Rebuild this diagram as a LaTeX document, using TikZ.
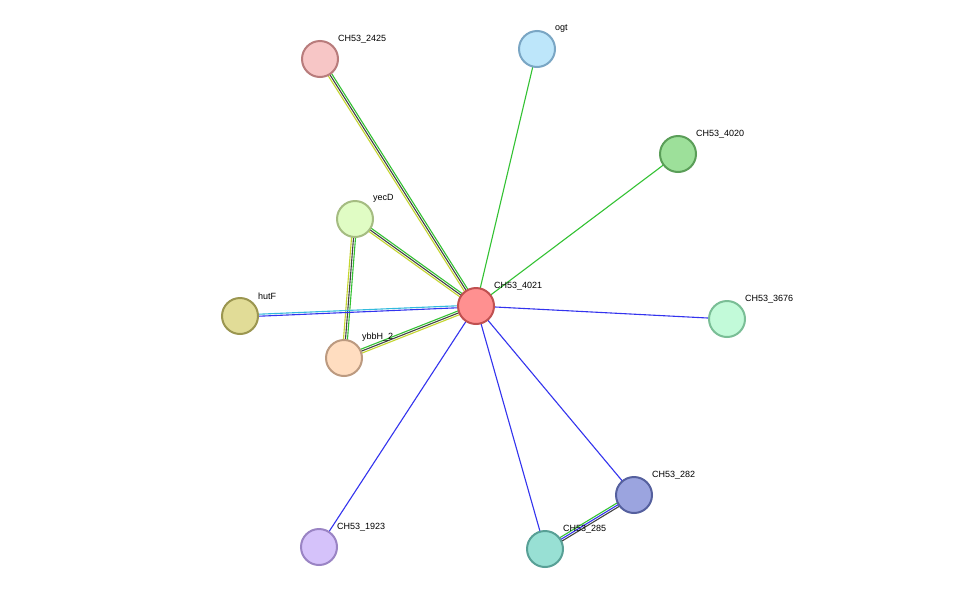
\documentclass[tikz,border=0pt]{standalone}
\usepackage{fontspec}
\setmainfont{Liberation Sans}
\usetikzlibrary{calc}
\definecolor{eg}{HTML}{33C233}
\definecolor{ek}{HTML}{444444}
\definecolor{ey}{HTML}{C4D62E}
\definecolor{eb}{HTML}{3333EE}
\definecolor{ec}{HTML}{33BBDD}
\tikzset{x=1pt,y=-1pt,
 prot/.style={circle,minimum size=36pt,inner sep=0pt,line width=2pt},
 lab/.style={anchor=south west,font=\fontsize{9}{10}\selectfont,inner sep=0pt},
 ed/.style={line width=1.1pt}}
\newcommand{\pe}[4]{\draw[ed,#4] ($(#1)!#3!90:(#2)$) -- ($(#2)!#3!-90:(#1)$);}
\begin{document}
\begin{tikzpicture}
\useasboundingbox (0,0) rectangle (976,595);
\fill[white] (0,0) rectangle (976,595);
\coordinate (a) at (476,306);
\coordinate (b) at (320,59);
\coordinate (c) at (537,49);
\coordinate (d) at (678,154);
\coordinate (e) at (355,219);
\coordinate (f) at (240,316);
\coordinate (g) at (344,358);
\coordinate (h) at (727,319);
\coordinate (i) at (634,495);
\coordinate (j) at (319,547);
\coordinate (k) at (545,549);
% edges
\pe{a}{b}{-2pt}{eg}\pe{a}{b}{0pt}{ek}\pe{a}{b}{2pt}{ey}
\pe{a}{e}{-2pt}{eg}\pe{a}{e}{0pt}{ek}\pe{a}{e}{2pt}{ey}
\pe{a}{g}{-2pt}{eg}\pe{a}{g}{0pt}{ek}\pe{a}{g}{2pt}{ey}
\pe{e}{g}{2pt}{eg}\pe{e}{g}{0pt}{ek}\pe{e}{g}{-2pt}{ey}
\pe{a}{f}{1pt}{eb}\pe{a}{f}{-1pt}{ec}
\pe{i}{k}{2pt}{ek}\pe{i}{k}{0pt}{eb}\pe{i}{k}{-2pt}{eg}
\draw[ed,eg] (a)--(c); \draw[ed,eg] (a)--(d);
\draw[ed,eb] (a)--(h); \draw[ed,eb] (a)--(i); \draw[ed,eb] (a)--(j); \draw[ed,eb] (a)--(k);
% nodes
\node[prot,fill={rgb,255:red,255;green,144;blue,144},draw={rgb,255:red,192;green,80;blue,80}] (n4021) at (a) {};
\node[prot,fill={rgb,255:red,247;green,198;blue,198},draw={rgb,255:red,184;green,124;blue,124}] (n2425) at (b) {};
\node[prot,fill={rgb,255:red,189;green,230;blue,250},draw={rgb,255:red,122;green,166;blue,196}] (nogt) at (c) {};
\node[prot,fill={rgb,255:red,157;green,224;blue,154},draw={rgb,255:red,90;green,158;blue,88}] (n4020) at (d) {};
\node[prot,fill={rgb,255:red,224;green,252;blue,196},draw={rgb,255:red,165;green,188;blue,130}] (nyecD) at (e) {};
\node[prot,fill={rgb,255:red,225;green,220;blue,151},draw={rgb,255:red,155;green,150;blue,80}] (nhutF) at (f) {};
\node[prot,fill={rgb,255:red,255;green,221;blue,192},draw={rgb,255:red,188;green,154;blue,128}] (nybbH) at (g) {};
\node[prot,fill={rgb,255:red,194;green,250;blue,217},draw={rgb,255:red,122;green,190;blue,150}] (n3676) at (h) {};
\node[prot,fill={rgb,255:red,155;green,164;blue,223},draw={rgb,255:red,85;green,96;blue,158}] (n282) at (i) {};
\node[prot,fill={rgb,255:red,213;green,194;blue,250},draw={rgb,255:red,154;green,132;blue,196}] (n1923) at (j) {};
\node[prot,fill={rgb,255:red,152;green,224;blue,212},draw={rgb,255:red,88;green,160;blue,150}] (n285) at (k) {};
% labels
\node[lab] (l4021) at ($(a)+(18,-16)$) {CH53\_4021};
\node[lab] (l2425) at ($(b)+(18,-16)$) {CH53\_2425};
\node[lab] (logt) at ($(c)+(18,-16)$) {ogt};
\node[lab] (l4020) at ($(d)+(18,-16)$) {CH53\_4020};
\node[lab] (lyecD) at ($(e)+(18,-16)$) {yecD};
\node[lab] (lhutF) at ($(f)+(18,-16)$) {hutF};
\node[lab] (lybbH) at ($(g)+(18,-16)$) {ybbH\_2};
\node[lab] (l3676) at ($(h)+(18,-16)$) {CH53\_3676};
\node[lab] (l282) at ($(i)+(18,-16)$) {CH53\_282};
\node[lab] (l1923) at ($(j)+(18,-16)$) {CH53\_1923};
\node[lab] (l285) at ($(k)+(18,-16)$) {CH53\_285};
\end{tikzpicture}
\end{document}
